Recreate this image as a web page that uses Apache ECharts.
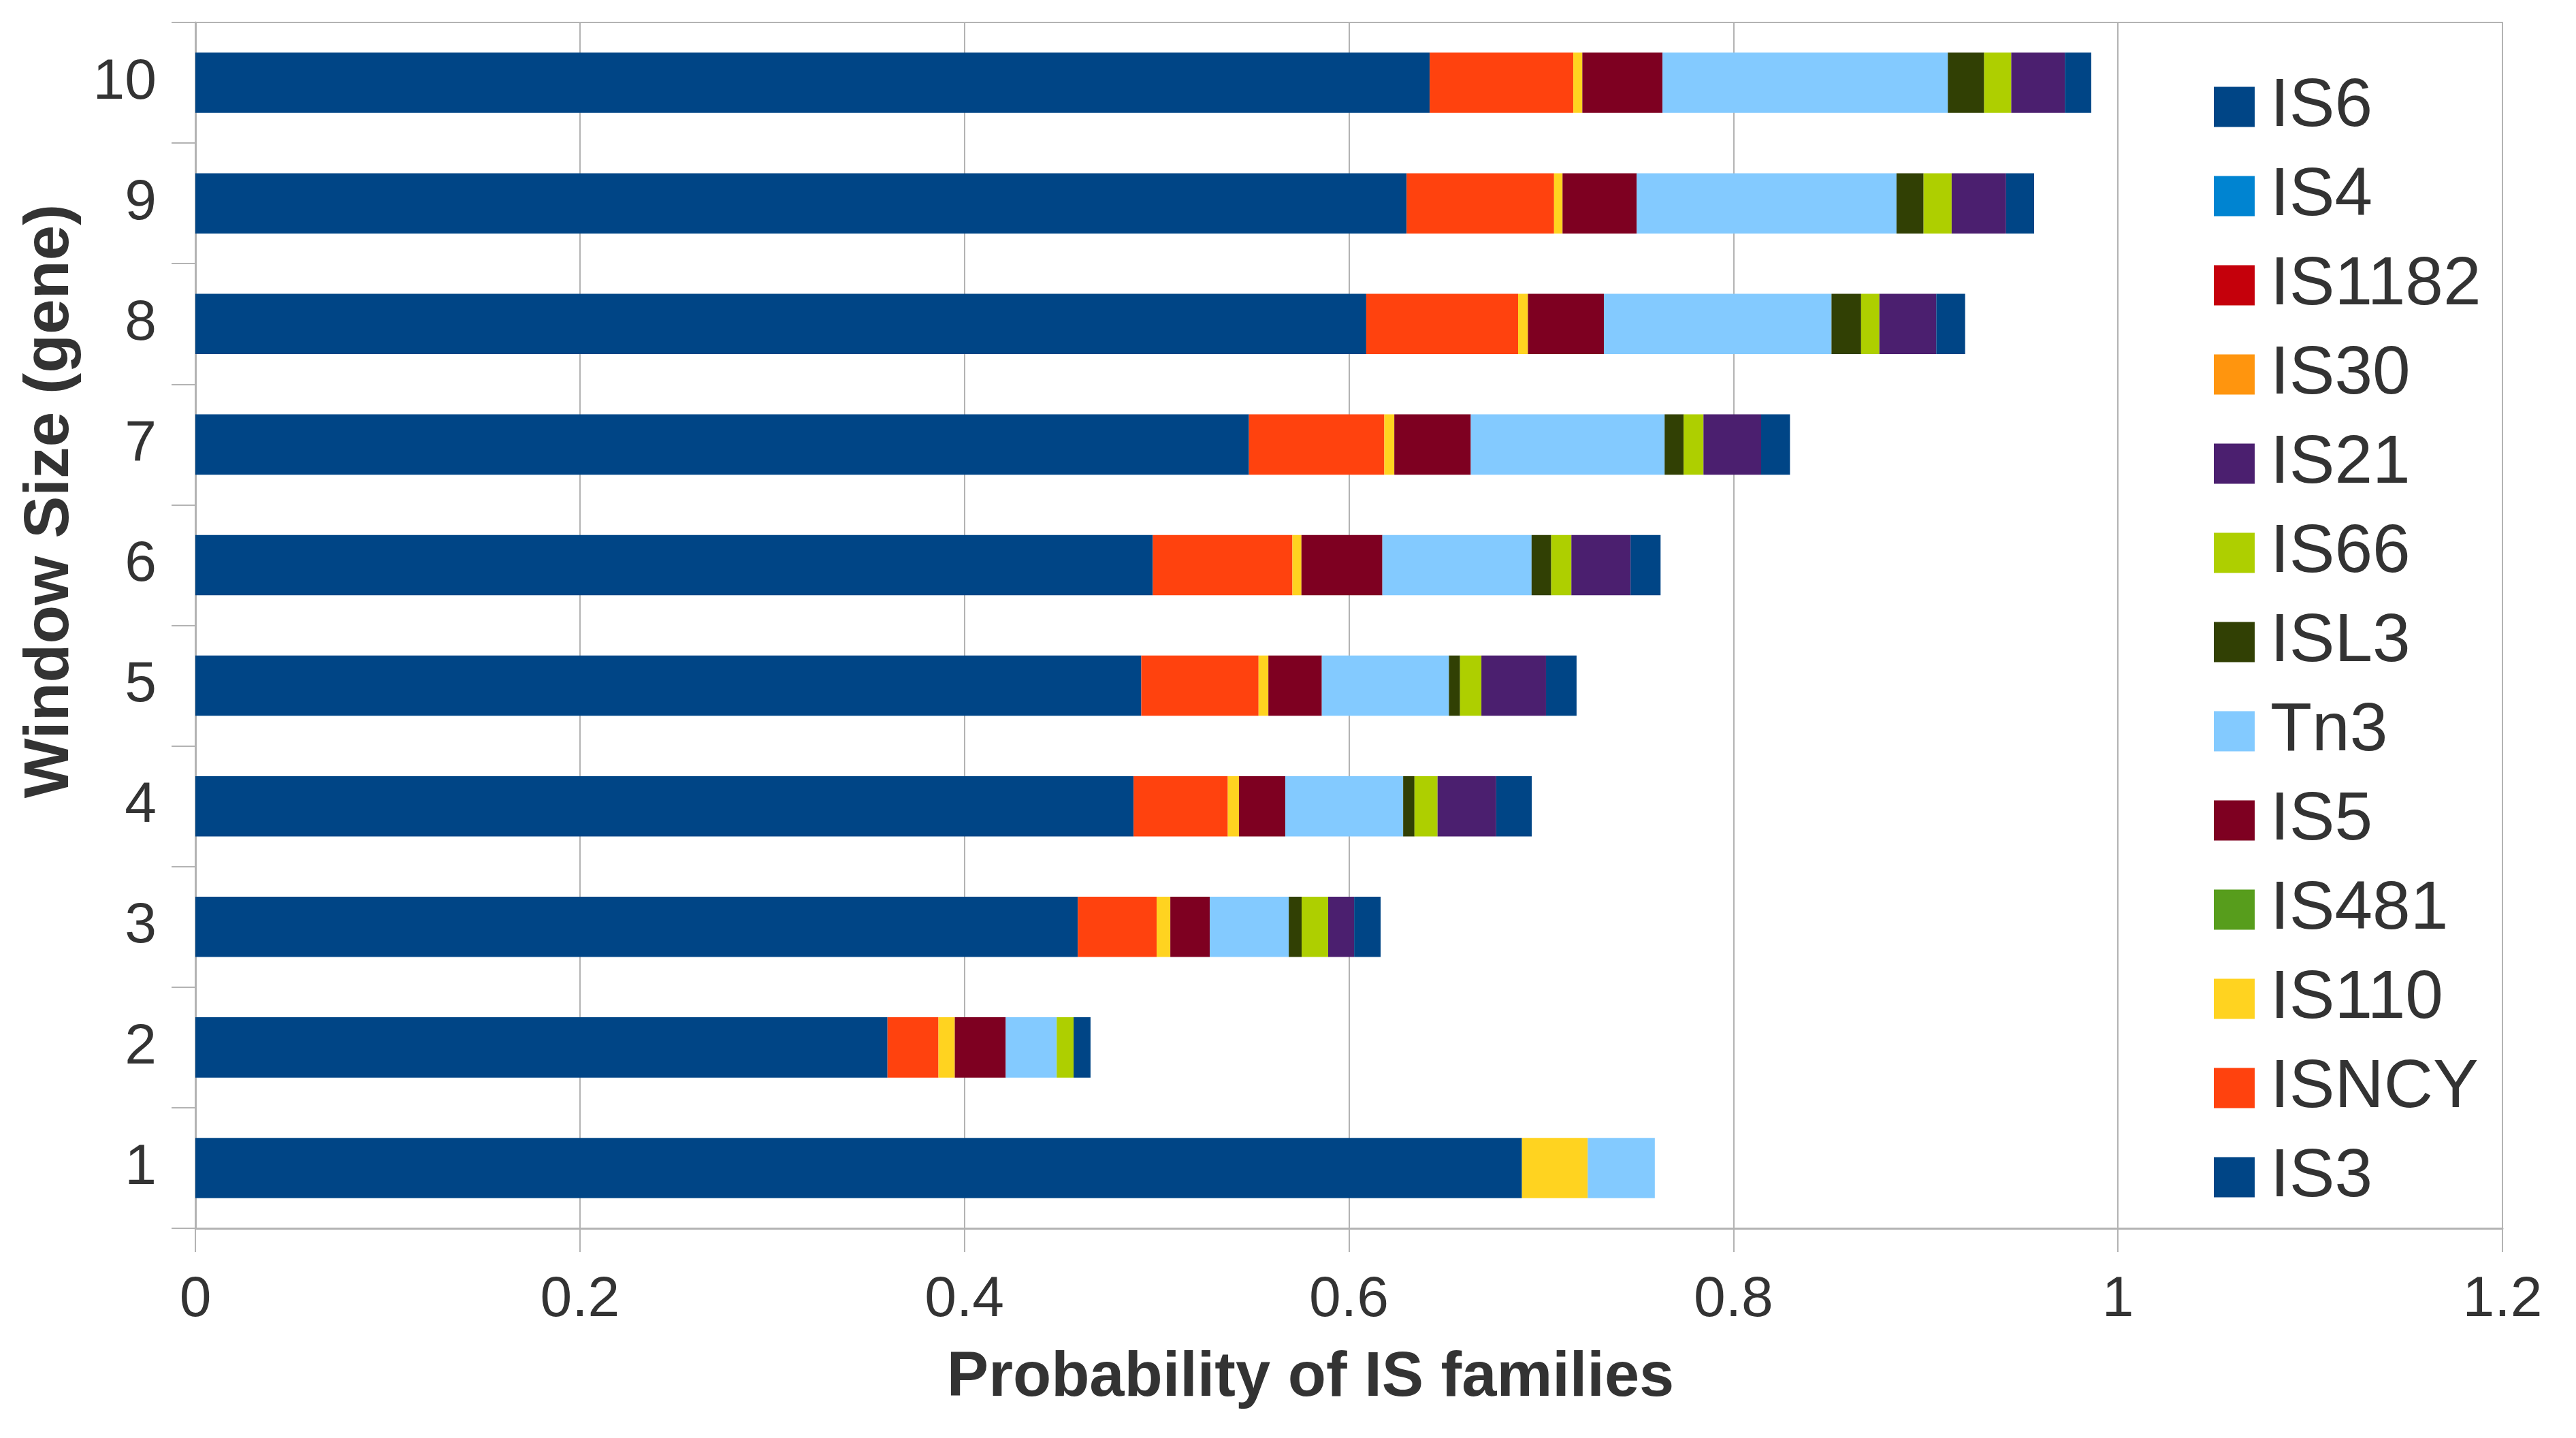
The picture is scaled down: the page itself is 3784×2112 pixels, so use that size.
<!DOCTYPE html>
<html>
<head>
<meta charset="utf-8">
<script src="https://cdn.jsdelivr.net/npm/echarts@6/dist/echarts.min.js"></script>
<style>
html,body{margin:0;padding:0;background:#fff;}
#chart{width:3784px;height:2112px;}
</style>
</head>
<body>
<div id="chart"></div>
<script>
// Window sizes (category axis, bottom to top)
var categories = ['1','2','3','4','5','6','7','8','9','10'];

// Series values (stacking order left to right), per window size 1..10
var IS3   = [0.690, 0.360, 0.459, 0.488, 0.492, 0.498, 0.548, 0.609, 0.630, 0.642];
var ISNCY = [0, 0.0265, 0.041, 0.049, 0.061, 0.0726, 0.0704, 0.079, 0.0767, 0.0747];
var IS110 = [0.0342, 0.0085, 0.0071, 0.0058, 0.0051, 0.0047, 0.0052, 0.0051, 0.0044, 0.0047];
var IS481 = [0, 0, 0, 0, 0, 0, 0, 0, 0, 0];
var IS5   = [0, 0.0265, 0.0205, 0.0241, 0.0278, 0.0421, 0.0398, 0.0395, 0.0386, 0.0417];
var Tn3   = [0.0349, 0.0265, 0.0411, 0.0613, 0.0661, 0.0776, 0.1008, 0.1184, 0.1351, 0.1484];
var ISL3  = [0, 0, 0.0067, 0.0059, 0.0058, 0.0102, 0.0099, 0.0154, 0.0141, 0.0189];
var IS66  = [0, 0.0088, 0.0138, 0.012, 0.0111, 0.0105, 0.0103, 0.0095, 0.0146, 0.0141];
var IS21  = [0, 0, 0.0135, 0.0305, 0.0336, 0.0308, 0.030, 0.0296, 0.0283, 0.0279];
var IS30  = [0, 0, 0, 0, 0, 0, 0, 0, 0, 0];
var IS1182= [0, 0, 0, 0, 0, 0, 0, 0, 0, 0];
var IS4   = [0, 0, 0, 0, 0, 0, 0, 0, 0, 0];
var IS6   = [0, 0.0088, 0.0138, 0.0185, 0.0159, 0.0156, 0.015, 0.015, 0.0146, 0.0137];

// Series names in stacking order and legend order
var seriesNames = ['IS3','ISNCY','IS110','IS481','IS5','Tn3','ISL3','IS66','IS21','IS30','IS1182','IS4','IS6'];
var seriesData  = [IS3, ISNCY, IS110, IS481, IS5, Tn3, ISL3, IS66, IS21, IS30, IS1182, IS4, IS6];
var legendOrder = ['IS6','IS4','IS1182','IS30','IS21','IS66','ISL3','Tn3','IS5','IS481','IS110','ISNCY','IS3'];

// X axis ticks
var xMin = 0, xMax = 1.2, xInterval = 0.2;

var colors = {
  IS3:'#004586', ISNCY:'#ff420e', IS110:'#ffd320', IS481:'#579d1c', IS5:'#7e0021',
  Tn3:'#83caff', ISL3:'#314004', IS66:'#aecf00', IS21:'#4b1f6f', IS30:'#ff950e',
  IS1182:'#c5000b', IS4:'#0084d1', IS6:'#004586'
};

var FONT = '"Liberation Sans", Arial, sans-serif';
var TXT = '#333333';
var GRID = '#b3b3b3';

var chart = echarts.init(document.getElementById('chart'), null, {renderer:'canvas', devicePixelRatio:1});

var series = seriesNames.map(function(n, i){
  return {
    name: n,
    type: 'bar',
    stack: 'total',
    barWidth: '50%',
    itemStyle: {color: colors[n]},
    emphasis: {disabled: true},
    data: seriesData[i]
  };
});

chart.setOption({
  animation: false,
  backgroundColor: '#ffffff',
  grid: {left: 287, right: 108, top: 33, bottom: 308, show: true, borderColor: GRID, borderWidth: 2, backgroundColor: 'transparent'},
  legend: {
    data: legendOrder,
    orient: 'vertical',
    left: 3247,
    top: 102,
    itemWidth: 60,
    itemHeight: 59,
    itemGap: 31,
    icon: 'rect',
    selectedMode: false,
    textStyle: {fontFamily: FONT, fontSize: 100, color: TXT, lineHeight: 100, padding: [0,0,0,18]}
  },
  xAxis: {
    type: 'value',
    min: xMin, max: xMax, interval: xInterval,
    axisLine: {show: true, lineStyle: {color: GRID, width: 3}},
    axisTick: {show: true, length: 35, lineStyle: {color: GRID, width: 2}},
    splitLine: {show: true, lineStyle: {color: GRID, width: 2}},
    axisLabel: {fontFamily: FONT, fontSize: 84, color: TXT, margin: 64}
  },
  yAxis: {
    type: 'category',
    data: categories,
    axisLine: {show: true, lineStyle: {color: GRID, width: 3}},
    axisTick: {show: true, length: 35, alignWithLabel: false, lineStyle: {color: GRID, width: 2}},
    splitLine: {show: false},
    axisLabel: {fontFamily: FONT, fontSize: 84, color: TXT, margin: 57}
  },
  graphic: [
    {type: 'text', x: 1925, y: 2025, style: {text: 'Probability of IS families', font: 'bold 92px ' + FONT, fill: TXT, textAlign: 'center', textVerticalAlign: 'middle'}},
    {type: 'text', x: 74, y: 736, rotation: Math.PI/2, style: {text: 'Window Size (gene)', font: 'bold 93px ' + FONT, fill: TXT, textAlign: 'center', textVerticalAlign: 'middle'}}
  ],
  series: series
});
</script>
</body>
</html>
